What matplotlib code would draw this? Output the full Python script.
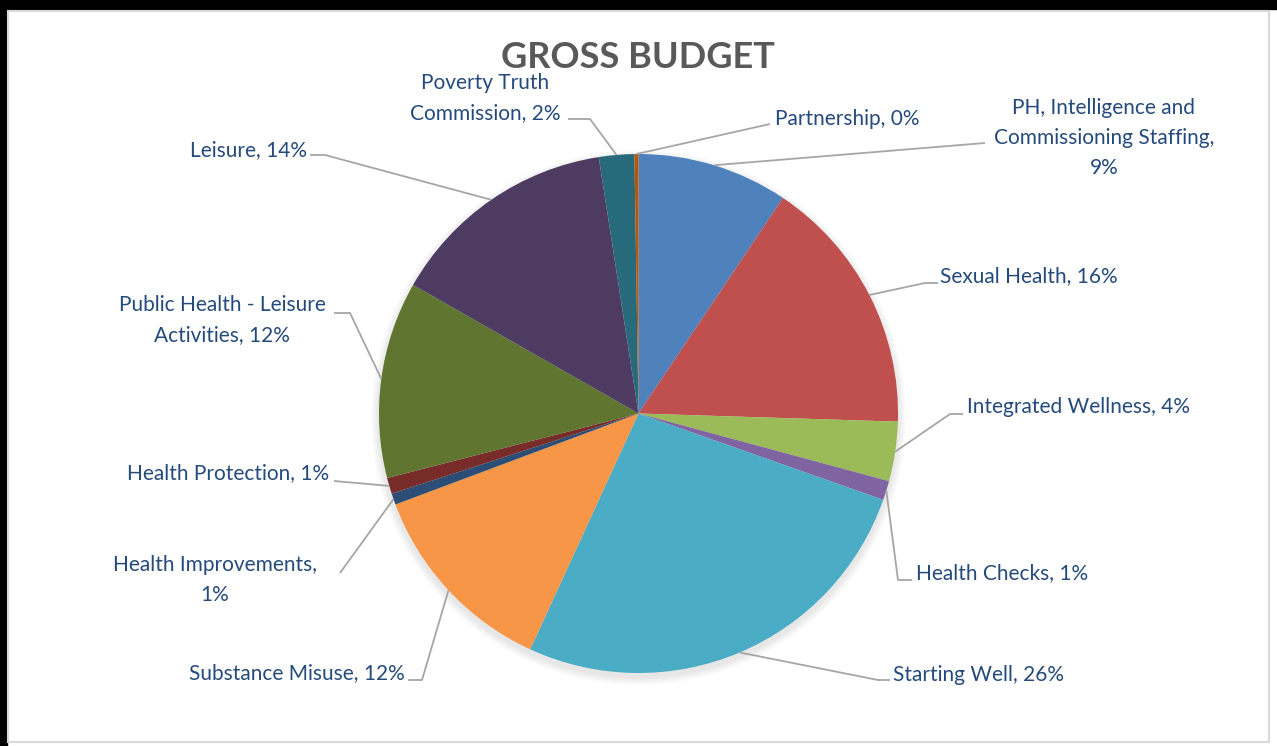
import numpy as np
import matplotlib
matplotlib.use("Agg")
import matplotlib.pyplot as plt
from matplotlib.patches import Rectangle, Circle

# Budget shares (percent of gross budget), clockwise from 12 o'clock
categories = [
    "PH, Intelligence and\nCommissioning Staffing",
    "Sexual Health",
    "Integrated Wellness",
    "Health Checks",
    "Starting Well",
    "Substance Misuse",
    "Health Improvements",
    "Health Protection",
    "Public Health - Leisure\nActivities",
    "Leisure",
    "Poverty Truth\nCommission",
    "Partnership",
]
shares = [9.4, 16.1, 3.7, 1.2, 26.45, 12.45, 0.7, 1.0, 12.25, 14.3, 2.2, 0.25]
colors = ["#4F81BD", "#C0504D", "#9BBB59", "#8064A2", "#4BACC6", "#F79646",
          "#2C4D75", "#772C2A", "#5F7530", "#4D3B62", "#276A7C", "#B65708"]

W, H = 1277, 746
fig = plt.figure(figsize=(W / 100, H / 100), dpi=100)
ax = fig.add_axes([0, 0, 1, 1])
ax.set_xlim(0, W)
ax.set_ylim(0, H)
ax.set_aspect("equal")
ax.axis("off")


def py(y):
    """Convert top-down pixel row to axis y."""
    return H - y


# frame
ax.add_patch(Rectangle((0, py(9)), W, 9, color="black", zorder=0))
ax.add_patch(Rectangle((0, 0), 7, H, color="black", zorder=0))
ax.add_patch(Rectangle((7.5, py(742)), 1261, 742 - 10.5, fill=False,
                       edgecolor="#D9D9D9", linewidth=1.5, zorder=0))

cx, cy, R = 638.5, py(413.5), 259.5

# soft drop shadow beneath the pie
for k in range(8):
    ax.add_patch(Circle((cx, cy - 4), R + 8 - k, color="black",
                        alpha=0.012, linewidth=0, zorder=1))

wedges, _ = ax.pie(shares, colors=colors, startangle=90, counterclock=False,
                   center=(cx, cy), radius=R, frame=True,
                   wedgeprops=dict(linewidth=0, zorder=2))
ax.set_xlim(0, W)
ax.set_ylim(0, H)
ax.axis("off")

total = sum(shares)
label_color = "#254A7C"
line_color = "#A6A6A6"
font = ["Lato", "DejaVu Sans"]

# label anchor (x, y in pixel rows), alignment, leader elbow points
layout = [
    dict(xy=(1104, 138), ha="center", pts=[(985, 143)]),
    dict(xy=(940, 276), ha="left", pts=[(925, 283), (938, 283)]),
    dict(xy=(967, 407), ha="left", pts=[(950, 414), (963, 414)]),
    dict(xy=(916, 573), ha="left", pts=[(898, 580), (912, 580)]),
    dict(xy=(893, 675), ha="left", pts=[(878, 680), (890, 680)]),
    dict(xy=(405, 673), ha="right", pts=[(422, 680), (408, 680)]),
    dict(xy=(215, 580), ha="center", pts=[(340, 573)]),
    dict(xy=(329, 473), ha="right", pts=[(334, 481)]),
    dict(xy=(222, 320), ha="center", pts=[(350, 313), (334, 313)]),
    dict(xy=(307, 150), ha="right", pts=[(325, 155), (310, 155)]),
    dict(xy=(485, 98), ha="center", pts=[(590, 119), (568, 119)]),
    dict(xy=(775, 119), ha="left", pts=[(770, 124)]),
]

for w, name, v, lay in zip(wedges, categories, shares, layout):
    mid = np.deg2rad((w.theta1 + w.theta2) / 2)
    ex, ey = cx + R * np.cos(mid), cy + R * np.sin(mid)
    xs = [ex] + [p[0] for p in lay["pts"]]
    ys = [ey] + [py(p[1]) for p in lay["pts"]]
    ax.plot(xs, ys, color=line_color, linewidth=1.3, zorder=3,
            solid_capstyle="butt")
    pct = round(v / total * 100)
    if name.startswith("PH,") or name.startswith("Health Improvements"):
        text = f"{name},\n{pct}%"
    else:
        text = f"{name}, {pct}%"
    ax.text(lay["xy"][0], py(lay["xy"][1]), text, ha=lay["ha"], va="center",
            multialignment="center", fontsize=15, color=label_color,
            family=font, linespacing=1.64, zorder=4)

ax.text(638, py(57), "GROSS BUDGET", ha="center", va="center",
        fontsize=26, fontweight="bold", color="#595959", family=font, zorder=4)

fig.savefig("out.png", dpi=100, facecolor="white")
